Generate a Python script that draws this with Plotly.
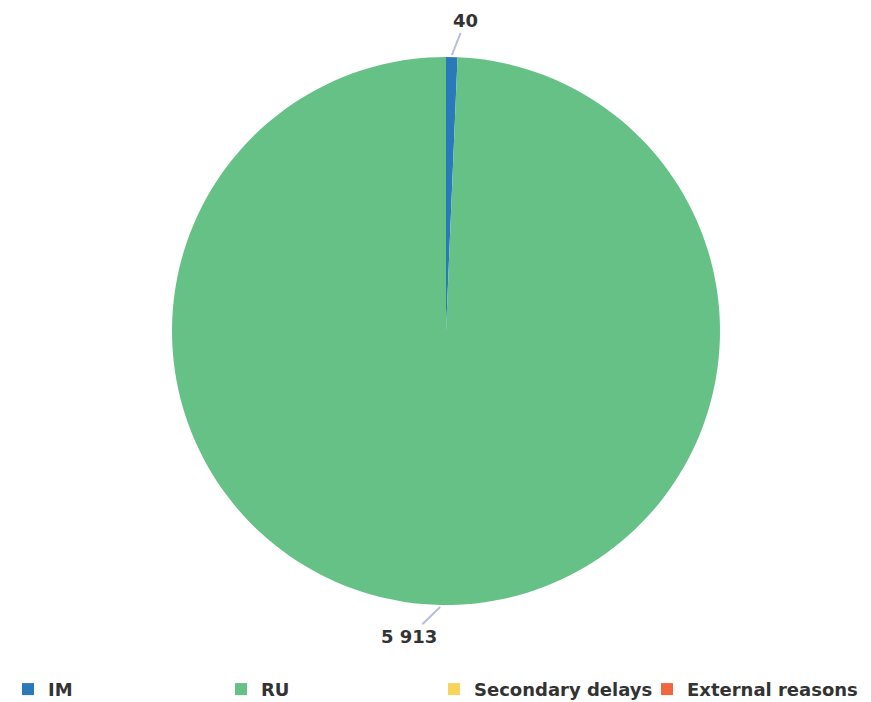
import math
import plotly.graph_objects as go

labels = ["IM", "RU", "Secondary delays", "External reasons"]
values = [40, 5913, 0, 0]
colors = ["#2a7ab9", "#66c187", "#f9d45c", "#f0673f"]

W, H = 871, 702
ml, mr, mt, mb = 13, 8, 49, 105
pw, ph = W - ml - mr, H - mt - mb
R = min(pw, ph) / 2

fig = go.Figure(go.Pie(
    labels=labels, values=values, sort=False, direction="clockwise", rotation=0,
    marker=dict(colors=colors, line=dict(width=0)),
    textinfo="none", hoverinfo="label+value", domain=dict(x=[0, 1], y=[0, 1]),
))

total = sum(values)
cum = 0
anns = []
for lab, v in zip(labels, values):
    if v > 0:
        mid = (cum + v / 2) / total * 2 * math.pi
        sx, sy = math.sin(mid), math.cos(mid)
        px = 0.5 + (R + 2) * sx / pw
        py = 0.5 + (R + 2) * sy / ph
        ax = 14 if sy > 0 else -31
        ay = -35 if sy > 0 else 30
        anns.append(dict(
            x=px, y=py, xref="paper", yref="paper",
            text=f"{v:,}".replace(",", " "), showarrow=True, arrowhead=0, arrowwidth=2,
            arrowcolor="#b8bedc", ax=ax, ay=ay, standoff=0, startstandoff=1,
            font=dict(family="DejaVu Sans", size=18, color="#333333", weight="bold"),
        ))
    cum += v

fig.update_layout(
    width=W, height=H, margin=dict(l=ml, r=mr, t=mt, b=mb, autoexpand=False),
    paper_bgcolor="white", plot_bgcolor="white",
    annotations=anns, separators=". ",
    legend=dict(orientation="h", xref="container", yref="container",
                x=0, xanchor="left", y=0.003, yanchor="bottom",
                entrywidth=168, entrywidthmode="pixels", traceorder="normal",
                font=dict(family="DejaVu Sans", size=18, color="#333333", weight="bold")),
    showlegend=True,
)
fig.write_html("out.html")
